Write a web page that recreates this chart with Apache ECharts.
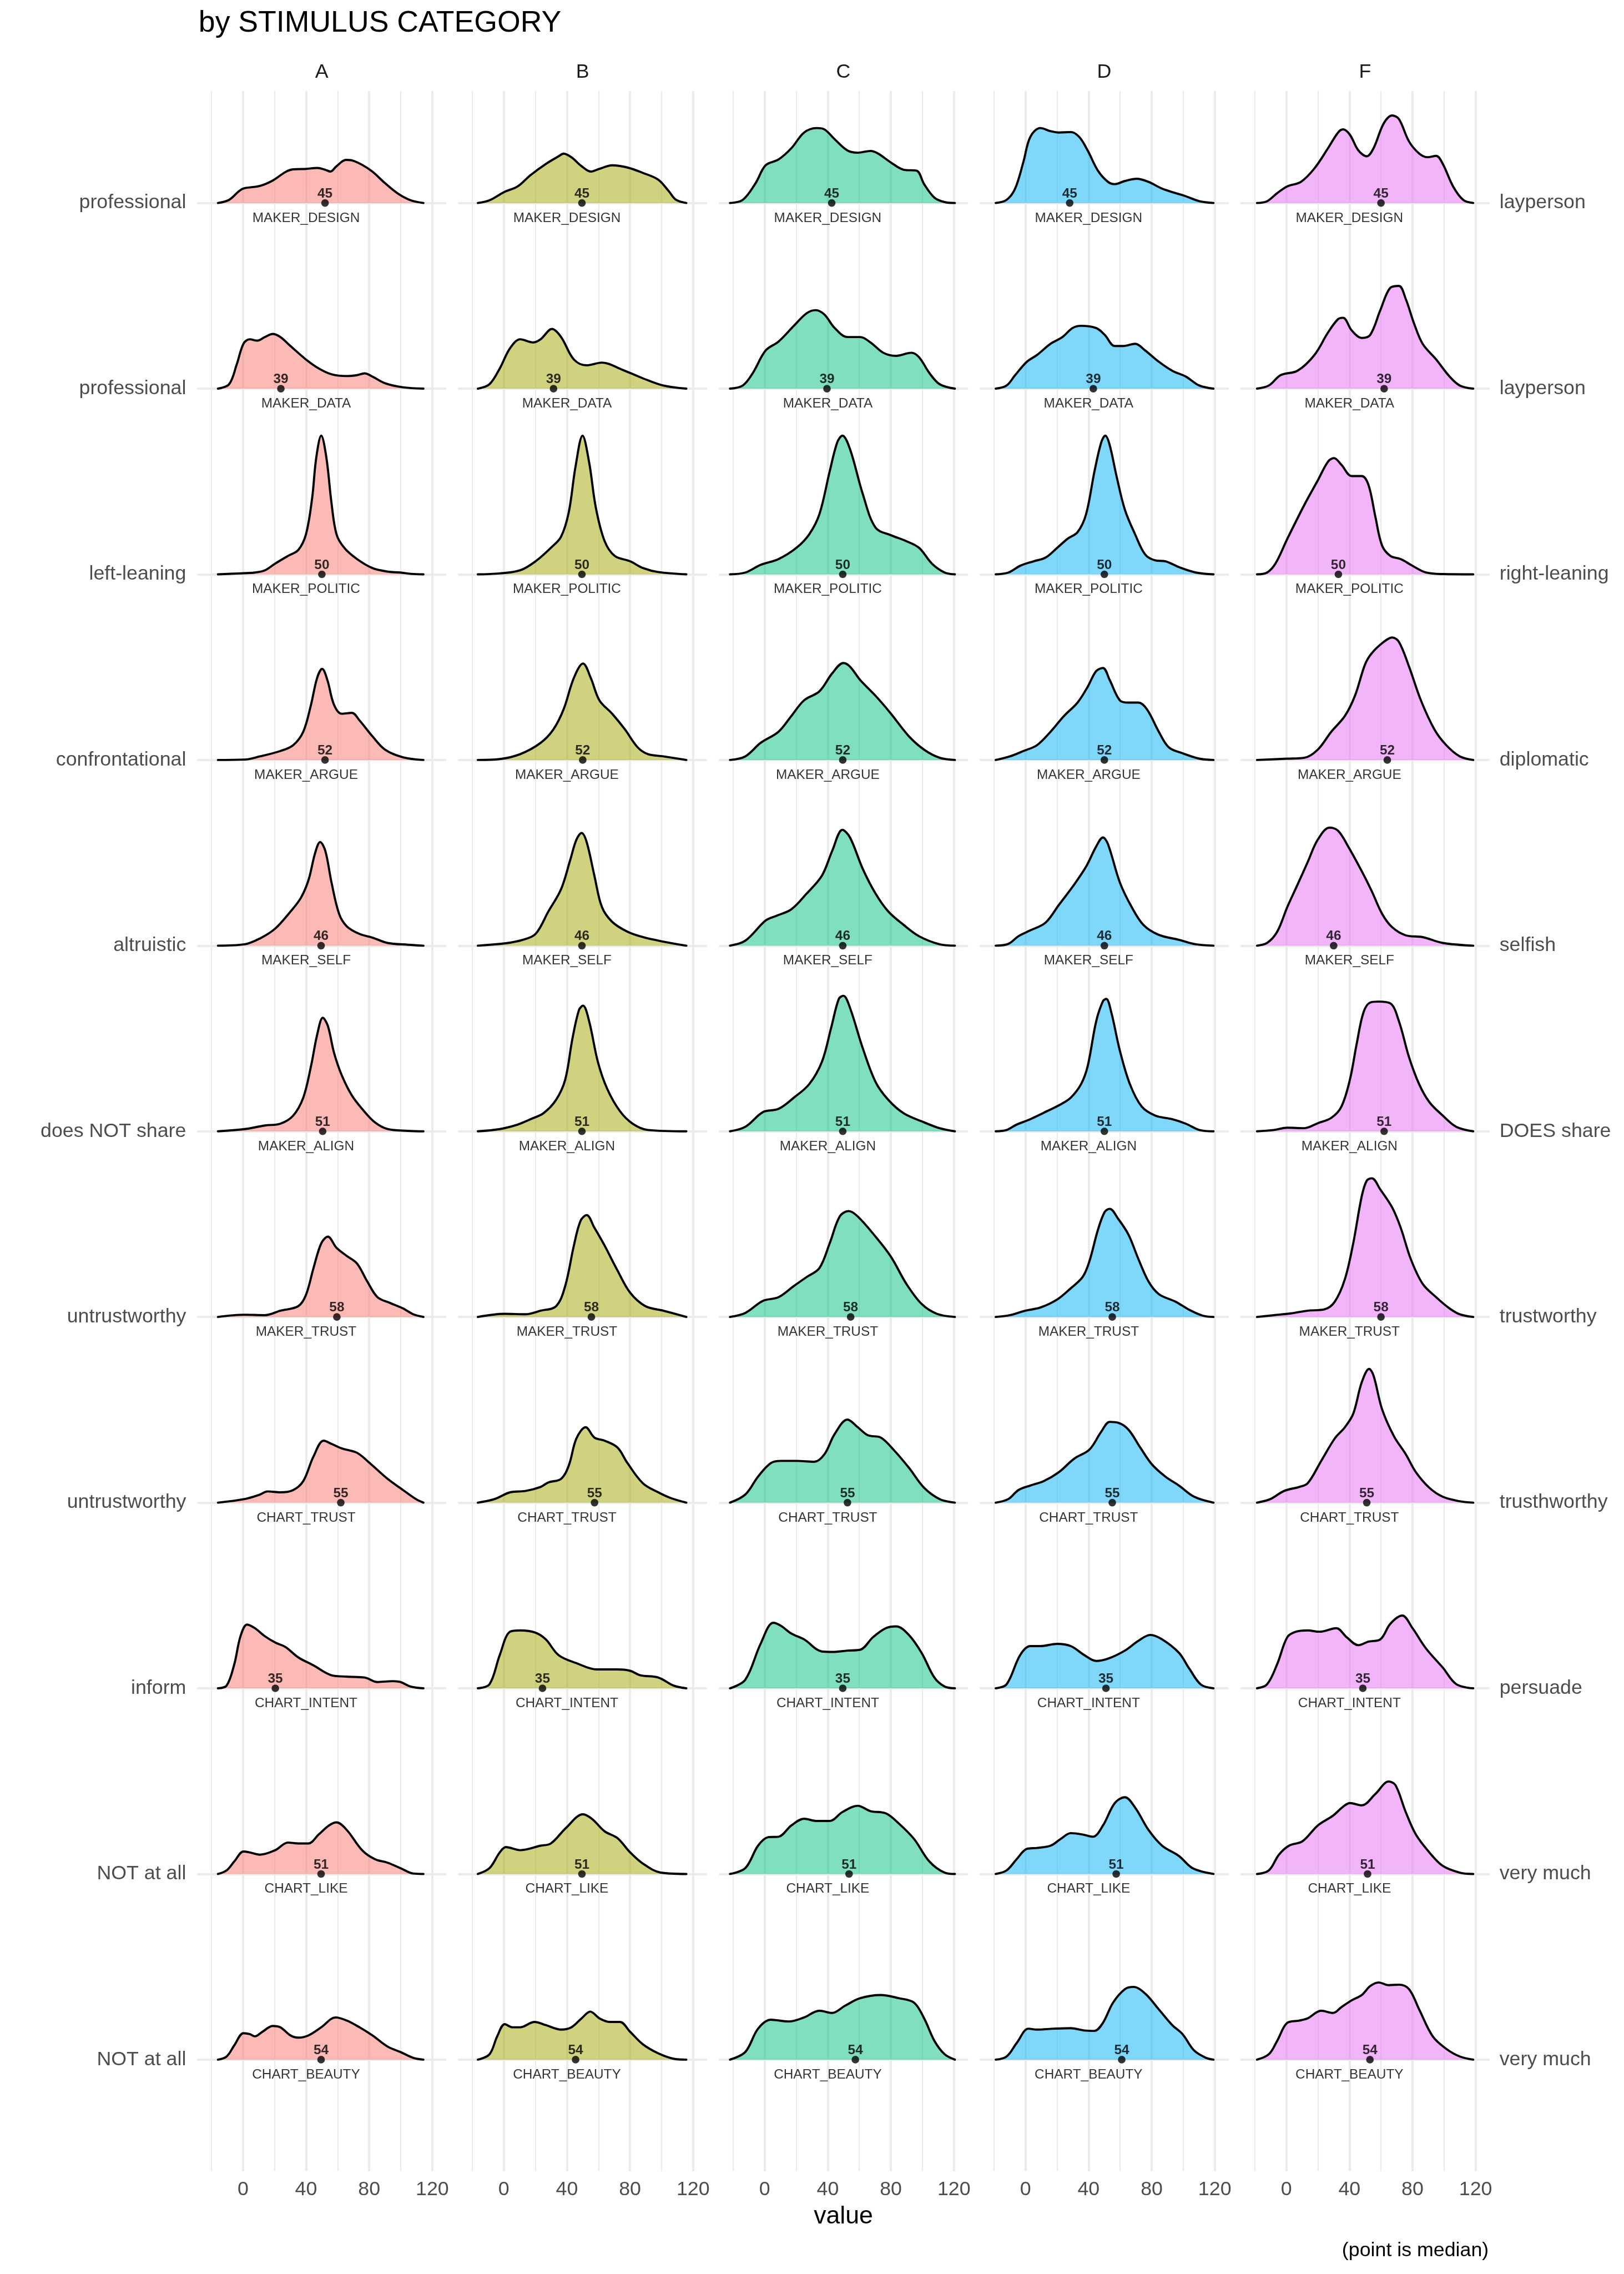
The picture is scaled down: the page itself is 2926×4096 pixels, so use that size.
<!DOCTYPE html>
<html><head><meta charset="utf-8">
<script src="https://cdn.jsdelivr.net/npm/echarts@6/dist/echarts.min.js"></script>
<style>html,body{margin:0;padding:0;background:#fff}#c{width:2926px;height:4096px}</style>
</head><body><div id="c"></div>
<script>
// ---------------- DATA ----------------
const COLUMNS = ['A', 'B', 'C', 'D', 'F'];
const ROW_NAMES = ['MAKER_DESIGN', 'MAKER_DATA', 'MAKER_POLITIC', 'MAKER_ARGUE', 'MAKER_SELF', 'MAKER_ALIGN', 'MAKER_TRUST', 'CHART_TRUST', 'CHART_INTENT', 'CHART_LIKE', 'CHART_BEAUTY'];
const LEFT_LABELS = ['professional', 'professional', 'left-leaning', 'confrontational', 'altruistic', 'does NOT share', 'untrustworthy', 'untrustworthy', 'inform', 'NOT at all', 'NOT at all'];
const RIGHT_LABELS = ['layperson', 'layperson', 'right-leaning', 'diplomatic', 'selfish', 'DOES share', 'trustworthy', 'trusthworthy', 'persuade', 'very much', 'very much'];
const MEDIAN_LABELS = [45, 39, 50, 52, 46, 51, 58, 55, 35, 51, 54];
const X_TICKS = [0, 40, 80, 120];
const X_MINOR = [-20, 20, 60, 100];

// median positions (point) per column, one per row
const MEDIAN_A = [52, 24, 50, 52, 49.5, 50.5, 59.5, 62, 20.5, 49.5, 49.5];
const MEDIAN_B = [49.5, 31.5, 49.5, 50, 49.5, 49.5, 55.5, 57.5, 24.5, 49.5, 45.5];
const MEDIAN_C = [42.5, 39.5, 49.5, 49.5, 49.5, 49.5, 54.5, 52.5, 49.5, 53.5, 57.5];
const MEDIAN_D = [28, 43, 50, 50, 50, 50, 55, 55, 51, 57.5, 61];
const MEDIAN_F = [60, 62, 33, 64, 30, 62, 60, 51, 48.5, 51.5, 53];

// density curves: [value, relative density height]
const A_DESIGN = [[-15.9,0],[-8.8,7],[-2.3,27],[1,33],[10.7,38],[18.8,50],[26.9,69],[31.8,75],[39.9,76],[47,78],[52.2,74],[55.4,70],[59.3,82],[65.2,96],[69,95],[75.5,85],[82,70],[90.1,44],[98.2,21],[106.3,6],[114.4,0]];
const B_DESIGN = [[-16.5,0],[-9.1,6],[0,24],[8.8,37],[16.9,62],[26.6,87],[34.7,104],[37.9,110],[42.8,102],[49.3,82],[55.1,70],[60.6,76],[68.7,84],[78.4,79],[88.2,67],[97.9,52],[104.4,27],[109.2,7],[115.7,0]];
const C_DESIGN = [[-22,0],[-13.9,7],[-5.8,44],[0.6,84],[8.8,97],[16.9,122],[25,157],[33,167],[37.9,164],[44.4,142],[52.5,117],[59,112],[67.1,116],[72,110],[80.1,90],[88.2,74],[96.3,72],[101.1,42],[107.6,12],[114.1,2],[120.6,0]];
const D_DESIGN = [[-18.9,0],[-12,7],[-6.6,32],[-1.3,92],[3,147],[9.4,167],[15.9,160],[21.2,157],[28.7,158],[34.1,147],[39.4,117],[45.9,72],[52.3,47],[56.6,42],[63,49],[70.5,54],[78,47],[86.6,32],[95.2,22],[101.6,15],[110.2,4],[119.2,0]];
const F_DESIGN = [[-18.6,0],[-12.2,4],[-5.8,22],[0.6,37],[9.2,47],[17.8,77],[26.4,122],[32.8,157],[36,164],[40.3,152],[45.7,117],[51,104],[55.3,122],[61.7,177],[67.1,195],[71.4,187],[77.8,137],[84.3,110],[89.6,102],[95,105],[99.2,87],[105.7,37],[112.1,7],[118.5,0]];

const A_DATA = [[-15.9,0],[-8.8,10],[-3.9,55],[0.3,100],[4.2,110],[9.1,107],[13.9,115],[18.8,122],[23.7,115],[30.1,95],[39.9,65],[48,45],[56.1,32],[65.8,28],[72.3,30],[77.1,34],[82,27],[90.1,12],[101.5,3],[114.4,0]];
const B_DATA = [[-16.5,0],[-9.1,10],[-2.6,45],[3.9,90],[10.4,110],[18.5,103],[23.3,110],[30.5,133],[36.3,115],[44.4,65],[52.5,52],[62.2,58],[75.2,42],[88.2,23],[101.1,7],[115.7,0]];
const C_DATA = [[-22,0],[-13.9,7],[-7.5,35],[0.6,85],[8.8,105],[18.5,140],[26.6,168],[32.4,175],[37.9,165],[44.4,135],[52.5,115],[60.6,115],[67.1,103],[75.2,80],[83.3,73],[93,80],[97.9,70],[104.4,35],[110.9,10],[120.6,0]];
const D_DATA = [[-18.9,0],[-12,7],[-6.6,30],[0.9,60],[7.3,75],[15.9,100],[23.4,115],[29.8,135],[35.2,140],[44.8,135],[50.2,120],[56.6,95],[62,95],[69.5,100],[75.9,85],[84.5,60],[93,40],[101.6,27],[110.2,7],[119.2,0]];
const F_DATA = [[-18.6,0],[-11.1,7],[-3.6,30],[7.1,40],[17.8,75],[26.4,125],[32.8,155],[36,158],[41.4,130],[47.8,113],[53.2,120],[59.6,175],[66,225],[71.4,229],[75.7,200],[81,145],[86.4,100],[95,65],[103.5,27],[110,7],[118.5,0]];

const A_POLITIC = [[-15.9,0],[-2.3,2],[7.5,4],[13.9,9],[20.4,24],[28.5,41],[35,54],[39.9,89],[43.8,169],[46.4,259],[49.6,309],[52.9,259],[56.1,159],[59.3,89],[64.2,59],[72.3,34],[82,14],[91.7,6],[99.8,4],[106.3,1],[114.4,0]];
const B_POLITIC = [[-16.5,0],[-2.6,2],[10.4,9],[20.1,29],[29.8,59],[36.3,84],[41.2,139],[45.4,239],[49.9,309],[54.1,249],[58.3,149],[63.9,74],[70.3,41],[80.1,29],[88.2,14],[97.9,5],[115.7,0]];
const C_POLITIC = [[-22,0],[-12.3,4],[-2.6,21],[8.8,34],[20.1,59],[28.2,89],[34.7,134],[41.2,229],[46,294],[49.3,309],[54.1,279],[62.2,179],[70.3,104],[80.1,87],[89.8,74],[97.9,59],[106,24],[114.1,4],[120.6,0]];
const D_POLITIC = [[-18.9,0],[-10.9,4],[-3.4,19],[5.1,29],[12.6,37],[20.1,59],[26.6,79],[33,94],[38.4,134],[43.7,229],[48,294],[50.6,309],[53.3,289],[57.7,219],[63,144],[69.5,89],[75.9,44],[82.3,31],[88.8,29],[97.3,16],[108,4],[119.2,0]];
const F_POLITIC = [[-18.6,0],[-12.2,4],[-6.9,24],[0.6,79],[11.3,154],[19.9,209],[26.4,251],[30.2,259],[34.9,244],[41.4,219],[47.8,219],[52.1,199],[56.4,129],[60.7,64],[66,41],[72.5,34],[80,19],[88.5,4],[99.2,0.5],[118.5,0]];

const A_ARGUE = [[-15.9,0],[1,1],[10.7,8],[23.7,20],[31.8,33],[38.2,63],[43.1,123],[47,183],[50.2,203],[53.5,178],[57.7,123],[62.6,103],[69,105],[73.9,88],[82,53],[90.1,23],[101.5,6],[114.4,0]];
const B_ARGUE = [[-16.5,0],[-2.6,2],[10.4,13],[23.3,38],[31.4,68],[37.9,113],[44.4,183],[50.2,215],[55.1,183],[60.6,133],[68.7,103],[76.8,68],[84.9,28],[91.4,13],[101.1,8],[115.7,0]];
const C_ARGUE = [[-22,0],[-12.3,8],[-2.6,38],[8.8,63],[16.9,98],[25,133],[34.7,153],[42.8,193],[49.9,216],[54.1,208],[60.6,178],[70.3,143],[80.1,103],[91.4,53],[101.1,23],[110.9,5],[120.6,0]];
const D_ARGUE = [[-18.9,0],[-9.9,8],[-1.3,20],[7.3,33],[15.9,63],[24.4,98],[33,128],[39.4,163],[44.8,198],[49.1,205],[53.4,178],[59.8,133],[65.2,128],[71.6,128],[77,113],[84.5,63],[90.9,28],[99.5,15],[110.2,3],[119.2,0]];
const F_ARGUE = [[-18.6,0],[0.6,3],[11.4,5],[19.9,23],[28.5,63],[37.1,98],[43.5,143],[49.9,213],[54.2,238],[61.7,263],[67.1,273],[71.4,263],[77.8,208],[85.3,133],[93.9,68],[101.4,33],[110,8],[118.5,0]];

const A_SELF = [[-15.9,0],[1,3],[10.7,16],[20.4,38],[30.1,76],[36.6,106],[41.5,146],[45.7,206],[48.9,231],[52.2,211],[56.1,141],[60.9,71],[65.8,43],[73.9,26],[82,18],[91.7,6],[104.7,2],[114.4,0]];
const B_SELF = [[-16.5,0],[0.6,5],[12,13],[20.1,26],[28.2,76],[36.3,126],[42.1,191],[46,236],[49.3,251],[52.5,231],[57.4,156],[62.2,86],[68.7,53],[78.4,31],[88.2,19],[101.1,9],[115.7,0]];
const C_SELF = [[-22,0],[-12.3,11],[0.6,56],[7.1,66],[16.9,81],[26.6,116],[36.3,156],[42.8,211],[49.3,258],[54.1,241],[62.2,171],[70.3,116],[78.4,76],[88.2,46],[97.9,21],[110.9,3],[120.6,0]];
const D_SELF = [[-18.9,0],[-10.9,4],[-4.5,21],[3,34],[12.6,51],[21.2,91],[29.8,131],[38.4,176],[44.8,221],[49.1,241],[52.3,226],[59.8,141],[67.3,86],[74.8,46],[84.5,24],[97.3,13],[108,3],[119.2,0]];
const F_SELF = [[-18.6,0],[-12.2,6],[-5.8,31],[0.6,86],[7.1,136],[13.5,186],[19.9,236],[27.4,263],[32.8,256],[39.2,221],[47.8,166],[54.2,121],[60.7,71],[67.1,41],[75.7,23],[86.4,19],[99.2,6],[118.5,0]];

const A_ALIGN = [[-15.9,0],[1,5],[13.9,13],[23.7,17],[31.8,35],[38.2,75],[43.1,145],[47,215],[50.6,253],[53.8,235],[57.7,175],[62.6,125],[69,80],[75.5,50],[83.6,20],[91.7,5],[104.7,1],[114.4,0]];
const B_ALIGN = [[-16.5,0],[-2.6,5],[8.8,15],[16.9,27],[25,40],[33.1,70],[38.9,115],[43.4,205],[47.6,270],[50.2,280],[54.1,245],[59.6,155],[65.5,95],[73.6,45],[81.7,17],[91.4,3],[115.7,0]];
const C_ALIGN = [[-22,0],[-12.3,10],[-1,43],[8.8,50],[18.5,75],[28.2,105],[36.3,155],[42.1,230],[47,295],[49.9,302],[54.1,275],[62.2,185],[70.3,110],[78.4,70],[88.2,40],[101.1,20],[110.9,7],[120.6,0]];
const D_ALIGN = [[-18.9,0],[-12,3],[-5.6,15],[3,27],[13.7,45],[22.3,60],[28.7,75],[35.2,105],[39.4,145],[44.8,245],[49.1,290],[51.2,295],[54.4,265],[59.8,180],[66.2,105],[73.7,55],[82.3,35],[93,27],[101.6,17],[110.2,3],[119.2,0]];
const F_ALIGN = [[-18.6,0],[-7.9,3],[0.6,8],[11.4,7],[19.9,18],[28.5,30],[34.9,55],[40.3,115],[44.6,195],[48.9,265],[53.2,287],[58.5,289],[66,285],[71.4,245],[77.8,165],[84.2,105],[90.7,65],[99.2,35],[107.8,10],[118.5,0]];

const A_MTRUST = [[-15.9,0],[1,5],[13.9,4],[23.7,14],[35,24],[39.9,49],[44.7,109],[49.6,164],[53.8,179],[59.3,154],[65.8,136],[72.3,119],[78.8,79],[85.3,44],[93.4,31],[101.5,19],[107.9,6],[114.4,0]];
const B_MTRUST = [[-16.5,0],[0.6,7],[13.6,6],[23.3,14],[33.1,24],[38.9,69],[44.4,159],[48.6,214],[52.5,227],[57.4,199],[63.9,159],[72,104],[80.1,54],[89.8,24],[101.1,14],[115.7,0]];
const C_MTRUST = [[-22,0],[-12.3,9],[-1,36],[8.8,44],[18.5,69],[26.6,89],[34.7,109],[41.2,164],[47.6,224],[53.2,236],[59,224],[70.3,179],[80.1,134],[89.8,74],[99.5,29],[109.2,7],[120.6,0]];
const D_MTRUST = [[-18.9,0],[-9.9,4],[-0.2,14],[9.4,21],[20.1,39],[28.7,64],[36.2,89],[40.5,124],[45.9,194],[50.2,234],[53.4,241],[58.7,219],[65.2,184],[71.6,129],[78,79],[84.5,51],[95.2,34],[103.8,16],[112.3,3],[119.2,0]];
const F_MTRUST = [[-18.6,0],[-7.9,4],[2.8,8],[13.5,14],[24.2,17],[30.7,34],[37.1,84],[42.4,164],[47.8,269],[51,304],[54.2,309],[59.6,284],[67.1,244],[72.5,199],[78.9,129],[86.4,74],[95,44],[103.5,19],[110,6],[118.5,0]];

const A_CTRUST = [[-15.9,0],[1,8],[10.7,18],[15.6,25],[23.7,23],[31.8,28],[38.2,48],[44.7,103],[51.2,138],[56.1,131],[62.6,121],[72.3,111],[80.4,88],[91.7,53],[101.5,28],[109.6,8],[114.4,0]];
const B_CTRUST = [[-16.5,0],[-5.8,8],[3.9,23],[13.6,26],[23.3,35],[28.2,45],[36.3,53],[41.2,83],[46,143],[51.9,168],[57.4,145],[63.9,138],[72,123],[78.4,88],[88.2,43],[97.9,23],[106,10],[115.7,0]];
const C_CTRUST = [[-22,0],[-12.3,18],[-4.2,58],[3.9,88],[10.4,93],[20.1,93],[31.4,91],[37.9,108],[44.4,153],[52.5,185],[59,168],[65.5,150],[73.6,145],[81.7,118],[91.4,78],[101.1,33],[110.9,8],[120.6,0]];
const D_CTRUST = [[-18.9,0],[-10.9,8],[-4.5,28],[3,38],[11.6,48],[21.2,68],[30.9,98],[40.5,118],[48,158],[53.4,180],[58.7,178],[65.2,163],[72.7,123],[80.2,85],[88.7,58],[97.3,38],[107,13],[119.2,0]];
const F_CTRUST = [[-18.6,0],[-10.1,8],[-1.5,26],[8.1,35],[13.5,43],[22.1,93],[30.7,143],[37.1,168],[42.4,198],[47.8,268],[52.5,298],[55.3,283],[60.7,208],[68.2,148],[75.7,108],[82.1,68],[90.7,33],[99.2,13],[110,3],[118.5,0]];

const A_INTENT = [[-15.9,0],[-10.4,6],[-5.5,54],[-1.6,116],[2.6,142],[7.5,134],[13.9,116],[20.4,102],[26.9,92],[35,69],[44.7,51],[56.1,29],[65.8,26],[77.1,24],[85.3,14],[95,16],[99.8,14],[106.3,4],[114.4,0]];
const B_INTENT = [[-16.5,0],[-9.1,9],[-2.6,74],[3.9,126],[10.4,129],[20.1,124],[26.6,109],[34.7,74],[46,56],[59,42],[72,42],[80.1,39],[86.5,29],[97.9,24],[107.6,6],[115.7,0]];
const C_INTENT = [[-22,0],[-12.3,19],[-2.6,99],[5.5,146],[10.4,139],[16.9,122],[25,109],[36.3,82],[42.8,81],[52.5,84],[60.6,86],[68.7,114],[76.8,134],[83.3,138],[91.4,119],[99.5,79],[107.6,24],[114.1,4],[120.6,0]];
const D_INTENT = [[-18.9,0],[-12,9],[-3.4,74],[3,94],[9.4,94],[20.1,99],[28.7,94],[37.3,74],[44.8,61],[52.3,66],[63,84],[71.6,106],[79.1,119],[86.6,109],[97.3,79],[103.8,44],[111.3,8],[119.2,0]];
const F_INTENT = [[-18.6,0],[-12.2,9],[-5.8,54],[0.6,114],[6,126],[13.5,129],[21,126],[31.7,134],[38.2,114],[45.7,96],[52.1,104],[59.6,109],[66,144],[73.5,162],[80,134],[88.5,89],[99.2,46],[107.8,9],[118.5,0]];

const A_LIKE = [[-15.9,0],[-10.4,8],[-5.5,28],[0.3,50],[4.2,48],[10.7,43],[20.4,53],[28.5,70],[35,68],[41.5,68],[48,88],[54.5,108],[59.3,115],[65.8,98],[75.5,53],[83.6,33],[91.7,25],[99.8,13],[107.9,1],[114.4,0]];
const B_LIKE = [[-16.5,0],[-9.1,13],[-2.6,48],[1.3,60],[10.4,53],[23.3,63],[29.8,68],[39.5,103],[50.2,133],[55.8,123],[63.9,95],[72,80],[80.1,48],[88.2,23],[99.5,3],[115.7,0]];
const C_LIKE = [[-22,0],[-12.3,13],[-4.2,63],[2.3,82],[8.8,83],[16.9,108],[25,123],[33.1,118],[41.2,118],[49.3,138],[59,152],[67.1,140],[76.8,135],[84.9,113],[94.7,78],[104.4,28],[114.1,3],[120.6,0]];
const D_LIKE = [[-18.9,0],[-12,8],[-5.6,33],[0.9,56],[7.3,58],[15.9,63],[22.3,78],[28.7,91],[36.2,88],[42.7,83],[49.1,108],[56.6,158],[63,171],[69.5,148],[78,98],[86.6,63],[97.3,40],[105.9,13],[119.2,0]];
const F_LIKE = [[-18.6,0],[-11.1,8],[-4.7,43],[1.7,63],[10.3,73],[19.9,108],[29.6,130],[36,150],[40.3,158],[47.8,153],[56.4,178],[64.9,206],[69.2,198],[75.7,138],[82.1,88],[90.7,48],[99.2,18],[110,3],[118.5,0]];

const A_BEAUTY = [[-15.9,0],[-10.4,7],[-5.5,32],[0.3,59],[4.2,57],[7.5,52],[12.3,62],[18.8,75],[23.7,72],[30.1,54],[35,49],[41.5,54],[49.6,72],[58.7,94],[65.8,87],[73.9,72],[82,54],[91.7,29],[99.8,17],[107.9,4],[114.4,0]];
const B_BEAUTY = [[-16.5,0],[-9.1,12],[-4.2,52],[0.6,79],[5.5,72],[10.4,72],[19.4,84],[26.6,77],[36.3,67],[42.8,72],[49.3,92],[54.8,107],[60.6,92],[67.1,84],[73.6,84],[80.1,62],[88.2,34],[97.9,14],[107.6,2],[115.7,0]];
const C_BEAUTY = [[-22,0],[-12.3,17],[-4.2,69],[3.9,89],[15.2,85],[25,94],[34.7,109],[42.8,104],[50.9,120],[60.6,137],[73.6,144],[84.9,137],[94.7,127],[101.1,92],[107.6,42],[114.1,12],[120.6,0]];
const D_BEAUTY = [[-18.9,0],[-12,7],[-5.6,37],[1.9,69],[7.3,67],[18,69],[28.7,70],[37.3,65],[43.7,64],[49.1,82],[55.5,127],[63,157],[68.4,162],[75.9,147],[84.5,112],[93,77],[99.5,57],[107,20],[114.5,4],[119.2,0]];
const F_BEAUTY = [[-18.6,0],[-11.1,12],[-5.8,42],[0.6,82],[8.1,87],[13.5,92],[22.1,109],[29.6,104],[34.9,117],[41.4,132],[47.8,144],[53.2,164],[58.5,172],[64.9,166],[71.4,167],[77.8,157],[84.2,112],[92.8,52],[101.4,24],[110,7],[118.5,0]];

// ---------------- ASSEMBLY ----------------
const DENS = [
  [A_DESIGN, A_DATA, A_POLITIC, A_ARGUE, A_SELF, A_ALIGN, A_MTRUST, A_CTRUST, A_INTENT, A_LIKE, A_BEAUTY],
  [B_DESIGN, B_DATA, B_POLITIC, B_ARGUE, B_SELF, B_ALIGN, B_MTRUST, B_CTRUST, B_INTENT, B_LIKE, B_BEAUTY],
  [C_DESIGN, C_DATA, C_POLITIC, C_ARGUE, C_SELF, C_ALIGN, C_MTRUST, C_CTRUST, C_INTENT, C_LIKE, C_BEAUTY],
  [D_DESIGN, D_DATA, D_POLITIC, D_ARGUE, D_SELF, D_ALIGN, D_MTRUST, D_CTRUST, D_INTENT, D_LIKE, D_BEAUTY],
  [F_DESIGN, F_DATA, F_POLITIC, F_ARGUE, F_SELF, F_ALIGN, F_MTRUST, F_CTRUST, F_INTENT, F_LIKE, F_BEAUTY]
];
const MEDIANS = [MEDIAN_A, MEDIAN_B, MEDIAN_C, MEDIAN_D, MEDIAN_F];

const S = 0.975;
const FONT = "'Liberation Sans', Arial, Helvetica, sans-serif";
const XMIN = -28.5, XMAX = 128.3, YMAX = 413.7, NAME_X = 40;
const COLORS = ['#F8766D', '#A3A500', '#00BF7D', '#00B0F6', '#E76BF3'];
const PANEL_L = 366, PANEL_STEP = 482, PANEL_W = 457;
const ROW0 = 375, ROW_STEP = 343, ROW_H = 343;
const GRID_TOP = 168, GRID_BOTTOM = 4011;
const F_AX = 36.7 * S, F_SMALL = 25 * S;

const grid = [], xAxis = [], yAxis = [], series = [];

// background panel per column (grid lines, tick labels, strip names)
COLUMNS.forEach((col, c) => {
  const gi = grid.length;
  grid.push({ left: (PANEL_L + PANEL_STEP * c) * S, top: GRID_TOP * S, width: PANEL_W * S, height: (GRID_BOTTOM - GRID_TOP) * S });
  const xb = xAxis.length;
  xAxis.push({
    gridIndex: gi, type: 'value', min: XMIN, max: XMAX, position: 'bottom',
    axisLine: { show: false }, axisTick: { show: false }, splitLine: { show: false },
    axisLabel: { show: true, customValues: X_TICKS, color: '#4D4D4D', fontSize: F_AX, lineHeight: F_AX, fontFamily: FONT, margin: 15.6 * S },
    name: c === 2 ? 'value' : '', nameLocation: 'middle', nameGap: 61 * S,
    nameTextStyle: { color: '#000', fontSize: 45.8 * S, lineHeight: 45.8 * S, fontFamily: FONT }
  });
  xAxis.push({
    gridIndex: gi, type: 'value', min: XMIN, max: XMAX, position: 'top',
    axisLine: { show: false }, axisTick: { show: false }, splitLine: { show: false }, axisLabel: { show: false },
    name: col, nameLocation: 'middle', nameGap: 16 * S,
    nameTextStyle: { color: '#1A1A1A', fontSize: F_AX, lineHeight: F_AX, fontFamily: FONT }
  });
  const yi = yAxis.length;
  yAxis.push({ gridIndex: gi, type: 'value', min: 0, max: 1, show: false });
  const lines = X_MINOR.map(v => ({ xAxis: v, lineStyle: { color: '#EBEBEB', width: 2.2 * S, type: 'solid' } }))
    .concat(X_TICKS.map(v => ({ xAxis: v, lineStyle: { color: '#EBEBEB', width: 4 * S, type: 'solid' } })));
  series.push({
    type: 'line', xAxisIndex: xb, yAxisIndex: yi, data: [], z: 0, silent: true, animation: false,
    markLine: { z: 0, silent: true, symbol: ['none', 'none'], label: { show: false }, animation: false, data: lines }
  });
});

// one ridge panel per column x row
COLUMNS.forEach((col, c) => {
  ROW_NAMES.forEach((rowName, r) => {
    const gi = grid.length;
    grid.push({ left: (PANEL_L + PANEL_STEP * c) * S, top: (ROW0 + ROW_STEP * r - ROW_H) * S, width: PANEL_W * S, height: ROW_H * S });
    const xi = xAxis.length;
    xAxis.push({
      gridIndex: gi, type: 'value', min: XMIN, max: XMAX, z: 1,
      axisLine: { show: true, onZero: false, lineStyle: { color: '#EBEBEB', width: 4 * S } },
      axisTick: { show: false }, axisLabel: { show: false }, splitLine: { show: false }
    });
    const yi = yAxis.length;
    const showY = (c === 0 || c === COLUMNS.length - 1);
    const yLabel = c === 0 ? LEFT_LABELS[r] : RIGHT_LABELS[r];
    yAxis.push({
      gridIndex: gi, type: 'value', min: 0, max: YMAX, position: c === COLUMNS.length - 1 ? 'right' : 'left',
      axisLine: { show: false }, axisTick: { show: false }, splitLine: { show: false },
      axisLabel: {
        show: showY, customValues: [0], formatter: v => (v === 0 ? yLabel : ''),
        color: '#4D4D4D', fontSize: F_AX, fontFamily: FONT, margin: (c === 0 ? 22 : 20) * S
      }
    });
    series.push({
      type: 'line', xAxisIndex: xi, yAxisIndex: yi, data: DENS[c][r], smooth: 0.35, symbol: 'none',
      clip: false, silent: true, animation: false, z: 3,
      lineStyle: { color: '#000', width: 4 * S, cap: 'round', join: 'round' },
      areaStyle: { color: COLORS[c], opacity: 0.5 }
    });
    series.push({
      type: 'scatter', xAxisIndex: xi, yAxisIndex: yi, clip: false, silent: true, animation: false, z: 5,
      data: [
        {
          value: [MEDIANS[c][r], 0], symbolSize: 14 * S, itemStyle: { color: '#000' },
          label: { show: true, position: 'top', distance: -2.4, formatter: String(MEDIAN_LABELS[r]), color: '#000', fontWeight: 'bold', fontSize: F_SMALL, lineHeight: F_SMALL, fontFamily: FONT }
        },
        {
          value: [NAME_X, 0], symbolSize: 1, itemStyle: { color: 'rgba(0,0,0,0)' },
          label: { show: true, position: 'bottom', distance: 14.6, formatter: rowName, color: '#000', fontSize: F_SMALL, lineHeight: F_SMALL, fontFamily: FONT }
        }
      ]
    });
  });
});

const chart = echarts.init(document.getElementById('c'), null, { renderer: 'canvas' });
chart.setOption({
  backgroundColor: '#FFFFFF',
  animation: false,
  textStyle: { fontFamily: FONT },
  title: [
    { text: 'by STIMULUS CATEGORY', left: 367 * S, top: 15.5 * S, padding: 0,
      textStyle: { fontSize: 55 * S, lineHeight: 55 * S, fontWeight: 'normal', color: '#000', fontFamily: FONT } },
    { text: '(point is median)', right: 250 * S, top: (4158 - 18.4) * S, padding: 0,
      textStyle: { fontSize: F_AX, lineHeight: F_AX, fontWeight: 'normal', color: '#000', fontFamily: FONT } }
  ],
  grid, xAxis, yAxis, series
});
</script></body></html>
